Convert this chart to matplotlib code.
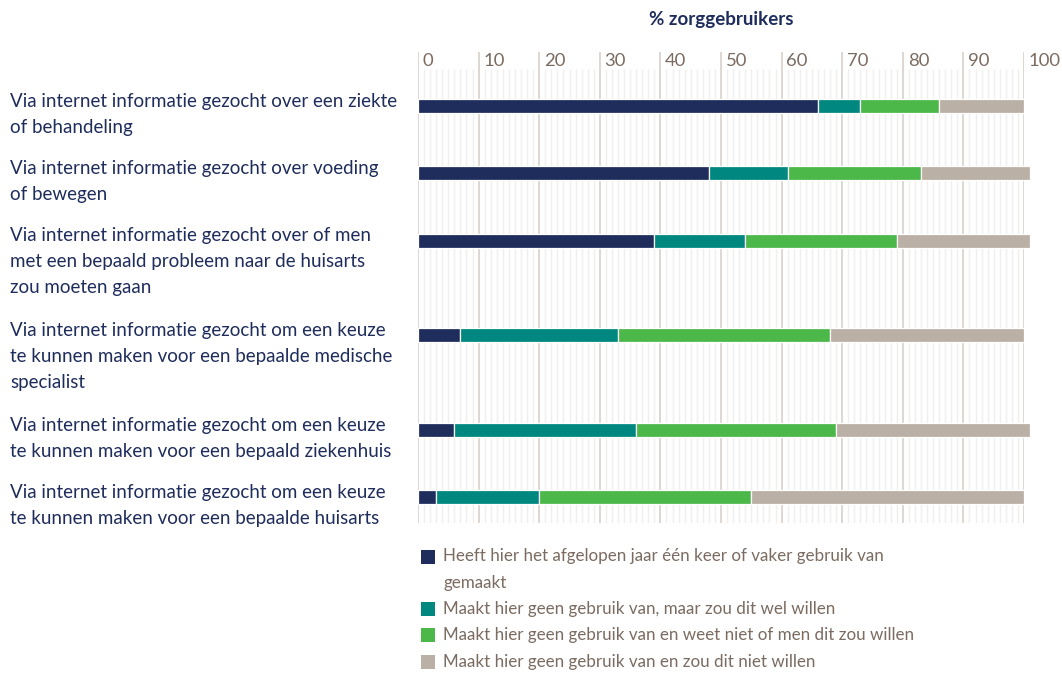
import matplotlib
matplotlib.use("Agg")
import matplotlib.pyplot as plt
from matplotlib.patches import Rectangle

# ---------------- data ----------------
categories = [
    "Via internet informatie gezocht over een ziekte\nof behandeling",
    "Via internet informatie gezocht over voeding\nof bewegen",
    "Via internet informatie gezocht over of men\nmet een bepaald probleem naar de huisarts\nzou moeten gaan",
    "Via internet informatie gezocht om een keuze\nte kunnen maken voor een bepaalde medische\nspecialist",
    "Via internet informatie gezocht om een keuze\nte kunnen maken voor een bepaald ziekenhuis",
    "Via internet informatie gezocht om een keuze\nte kunnen maken voor een bepaalde huisarts",
]
series_names = [
    "Heeft hier het afgelopen jaar één keer of vaker gebruik van\ngemaakt",
    "Maakt hier geen gebruik van, maar zou dit wel willen",
    "Maakt hier geen gebruik van en weet niet of men dit zou willen",
    "Maakt hier geen gebruik van en zou dit niet willen",
]
used = [66, 48, 39, 7, 6, 3]
would_like = [7, 13, 15, 26, 30, 17]
unsure = [13, 22, 25, 35, 33, 35]
not_want = [14, 18, 22, 32, 32, 45]
x_ticks = [0, 10, 20, 30, 40, 50, 60, 70, 80, 90, 100]
axis_title = "% zorggebruikers"

# ---------------- style ----------------
colors = ["#1f2d5c", "#00877f", "#4cb84a", "#bbb0a6"]
navy = "#1f2d5c"
brown = "#7b6b60"
major_c = "#dcd4ce"
minor_c = "#f1eeec"
FONT = "Lato"

W, H = 1062, 673
fig = plt.figure(figsize=(W / 100, H / 100), dpi=100)
fig.patch.set_facecolor("white")

ax_l, ax_r, ax_t, ax_b = 418, 1024, 52, 523
ax = fig.add_axes([ax_l / W, 1 - ax_b / H, (ax_r - ax_l) / W, (ax_b - ax_t) / H])
ax_h = ax_b - ax_t
ax.set_xlim(0, 100)
ax.set_ylim(ax_h, 0)
ax.axis("off")

# row positions derived from the number of label lines
line_h, gap = 27.2, 13.0
pos = []
p = 54.0
for i, c in enumerate(categories):
    pos.append(p)
    p += c.count("\n") * line_h + line_h + gap

# grid
minor_x = [v for v in range(0, 101) if v % 10 != 0]
ax.vlines(minor_x, 17, ax_h, colors=minor_c, lw=1.0, zorder=0)
ax.vlines(x_ticks, 0, ax_h, colors=major_c, lw=1.3, zorder=0.5)

# bars
series = [used, would_like, unsure, not_want]
left = [0] * len(categories)
for vals, col in zip(series, colors):
    bars = ax.barh(pos, vals, left=left, height=14, color=col, edgecolor="white",
                   linewidth=0.9, zorder=2)
    for b in bars:
        b.set_clip_on(False)
    left = [a + b for a, b in zip(left, vals)]

# measure helper to fit font sizes
renderer = fig.canvas.get_renderer()
def fit_size(txt, target_px, weight="normal"):
    t = fig.text(0, 0, txt, fontsize=12, family=FONT, weight=weight)
    w = t.get_window_extent(renderer).width
    t.remove()
    return 12 * target_px / w

lab_fs = fit_size("Via internet informatie gezocht over een ziekte", 387)
leg_fs = fit_size("Heeft hier het afgelopen jaar één keer of vaker gebruik van", 440)
tick_fs = fit_size("100", 32)
title_fs = fit_size(axis_title, 144, weight="bold")

# tick labels
for v in x_ticks:
    ax.text(v + 0.8, 1, str(v), ha="left", va="top", fontsize=tick_fs,
            family=FONT, color=brown)

# axis title
fig.text((ax_l + ax_r) / 2 / W, 1 - 20 / H, axis_title, ha="center", va="center",
         fontsize=title_fs, family=FONT, weight="bold", color=navy)

# category labels
txt_lh = 26.0
for c, yp in zip(categories, pos):
    for k, line in enumerate(c.split("\n")):
        ypx = ax_t + yp - 5 + k * txt_lh
        fig.text(10 / W, 1 - ypx / H, line, ha="left", va="center",
                 fontsize=lab_fs, family=FONT, color=navy)

# legend (drawn manually)
y = 556.5
leg_lh = 26.3
for name, col in zip(series_names, colors):
    fig.patches.append(Rectangle((421 / W, 1 - (y + 7) / H), 14 / W, 14 / H,
                                 transform=fig.transFigure, facecolor=col,
                                 edgecolor="none"))
    for k, line in enumerate(name.split("\n")):
        fig.text(443 / W, 1 - (y + k * leg_lh) / H, line, ha="left", va="center",
                 fontsize=leg_fs, family=FONT, color=brown)
    y += (name.count("\n") + 1) * leg_lh

fig.savefig("out.png", dpi=100)
